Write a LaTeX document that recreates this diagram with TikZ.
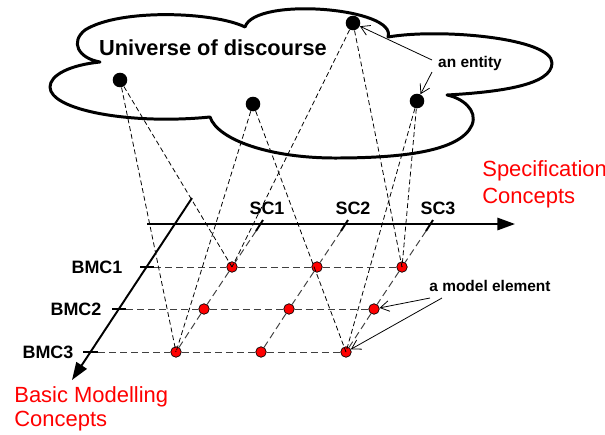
\documentclass[tikz,border=0pt]{standalone}
\usepackage{fontspec}
\setmainfont{Liberation Sans}
\usetikzlibrary{arrows.meta}

\begin{document}
\begin{tikzpicture}[x=0.02cm, y=-0.02cm,
  entity/.style={circle, fill=black, inner sep=0pt, minimum size=8.3pt},
  melem/.style={circle, draw=black, line width=0.4pt, fill=red, inner sep=0pt, minimum size=6pt},
  concept/.style={font=\bfseries\fontsize{10.2}{12}\selectfont},
  note/.style={font=\bfseries\fontsize{8.8}{10.5}\selectfont},
  axistitle/.style={text=red, align=left, inner sep=0pt, anchor=west},
  axis/.style={line width=1.1pt, -{Triangle[length=10pt,width=7pt]}},
  tickmark/.style={line width=1.1pt},
  grid/.style={dash pattern=on 4pt off 2.3pt, line width=0.55pt, black!75},
  map/.style={dash pattern=on 2.8pt off 1.7pt, line width=0.45pt},
  pointer/.style={line width=0.45pt, -{Straight Barb[length=5pt,width=6pt]}}
]
\useasboundingbox (0,0) rectangle (605,434);

% Universe of discourse
\draw[line width=1.7pt, line join=round]
  (100,62) .. controls (70,65) and (50,75) .. (50,87)
  .. controls (50,110) and (130,125) .. (210,117)
  .. controls (218,140) and (270,158) .. (335,158)
  .. controls (400,158) and (460,152) .. (472,125)
  .. controls (478,110) and (462,98) .. (447,95)
  .. controls (500,92) and (552,85) .. (552,63)
  .. controls (552,38) and (440,28) .. (388,37)
  .. controls (398,8) and (255,-4) .. (245,27)
  .. controls (215,12) and (120,8) .. (85,30)
  .. controls (70,42) and (78,58) .. cycle;
\node[font=\bfseries\fontsize{12.4}{15}\selectfont] (uod) at (213,48) {Universe of discourse};

% Entities
\node[entity] (ent1) at (120,80) {};
\node[entity] (ent2) at (253,104) {};
\node[entity] (ent3) at (353,23) {};
\node[entity] (ent4) at (417,101) {};
\node[note] (entlabel) at (470,63) {an entity};
\coordinate (ep1) at (432,60);
\coordinate (ep2) at (432,72);
\draw[pointer] (ep1) -- (ent3);
\draw[pointer] (ep2) -- (ent4);

% Axes
\coordinate (scstart) at (147,224);
\coordinate (scend) at (515,224);
\coordinate (bmcstart) at (192,198);
\coordinate (bmcend) at (72,380);
\draw[axis] (scstart) -- (scend);
\draw[axis] (bmcstart) -- (bmcend);
\node[axistitle, font=\fontsize{12.5}{15.4}\selectfont] (sctitle) at (482,184) {Specification\\Concepts};
\node[axistitle, font=\fontsize{12.5}{13.7}\selectfont] (bmctitle) at (14,409) {Basic Modelling\\Concepts};

% Specification concepts
\node[concept] (sc1lab) at (267,208) {SC1};
\node[concept] (sc2lab) at (353,208) {SC2};
\node[concept] (sc3lab) at (438,208) {SC3};
\coordinate (sc1) at (256,231);
\coordinate (sc2) at (341,231);
\coordinate (sc3) at (426,231);
\draw[tickmark] (263,220) -- (sc1);
\draw[tickmark] (348,220) -- (sc2);
\draw[tickmark] (433,220) -- (sc3);

% Basic modelling concepts
\node[concept] (bmc1lab) at (97,267) {BMC1};
\node[concept] (bmc2lab) at (76,309) {BMC2};
\node[concept] (bmc3lab) at (48,352) {BMC3};
\coordinate (bmc1) at (154,267);
\coordinate (bmc2) at (126,309);
\coordinate (bmc3) at (98,352);
\draw[tickmark] (140,267) -- (bmc1);
\draw[tickmark] (112,309) -- (bmc2);
\draw[tickmark] (83,352) -- (bmc3);

% Model elements
\node[melem] (r1c1) at (232,267) {};
\node[melem] (r1c2) at (317,267) {};
\node[melem] (r1c3) at (402,267) {};
\node[melem] (r2c1) at (204,309) {};
\node[melem] (r2c2) at (289,309) {};
\node[melem] (r2c3) at (374,309) {};
\node[melem] (r3c1) at (176,352) {};
\node[melem] (r3c2) at (261,352) {};
\node[melem] (r3c3) at (346,352) {};

\draw[grid] (bmc1) -- (r1c1) -- (r1c2) -- (r1c3);
\draw[grid] (bmc2) -- (r2c1) -- (r2c2) -- (r2c3);
\draw[grid] (bmc3) -- (r3c1) -- (r3c2) -- (r3c3);
\draw[grid] (sc1) -- (r1c1) -- (r2c1) -- (r3c1);
\draw[grid] (sc2) -- (r1c2) -- (r2c2) -- (r3c2);
\draw[grid] (sc3) -- (r1c3) -- (r2c3) -- (r3c3);

% Entity to model element
\draw[map] (ent1) -- (r3c1.center);
\draw[map] (ent1) -- (r1c1.center);
\draw[map] (ent2) -- (r3c1.center);
\draw[map] (ent2) -- (r3c3.center);
\draw[map] (ent3) -- (r1c1.center);
\draw[map] (ent3) -- (r1c3.center);
\draw[map] (ent4) -- (r3c3.center);
\draw[map] (ent4) -- (r1c3.center);

\node[note] (mdllabel) at (490,286) {a model element};
\coordinate (mp1) at (430,298);
\coordinate (mp2) at (442,298);
\draw[pointer] (mp1) -- (r2c3);
\draw[pointer] (mp2) -- (r3c3);

\end{tikzpicture}
\end{document}
